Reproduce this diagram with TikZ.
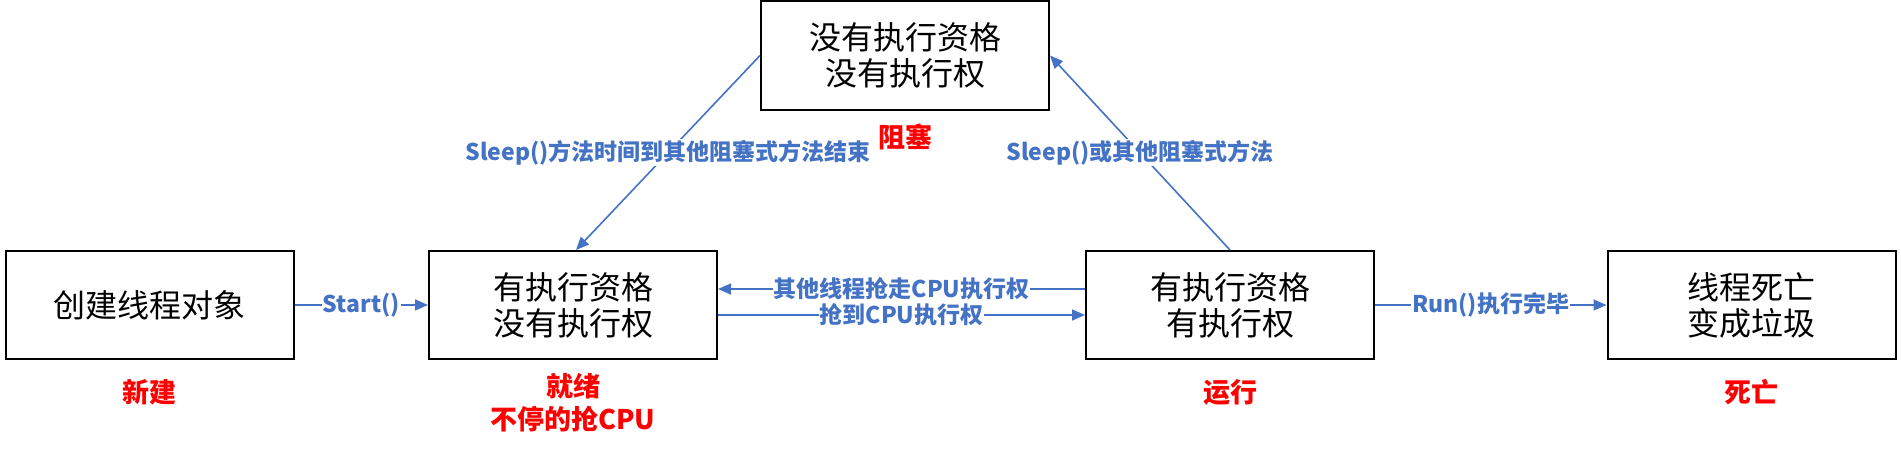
\documentclass[tikz,border=0pt]{standalone}
\usepackage{fontspec}
\setmainfont{Noto Sans CJK SC}
\usetikzlibrary{arrows.meta}
\definecolor{lblue}{HTML}{4472C4}
\begin{document}
\begin{tikzpicture}[x=1pt,y=-1pt,
  box/.style={draw=black,line width=2pt,minimum width=288pt,minimum height=108pt,inner sep=0pt,align=center,font=\fontsize{32}{36}\selectfont},
  conn/.style={draw=lblue,line width=1.6pt,-{Triangle[length=13pt,width=11pt]}},
  lbl/.style={fill=white,text=lblue,font=\fontsize{23}{26}\selectfont\bfseries,inner sep=1pt},
  statelbl/.style={text=red,font=\fontsize{27}{33}\selectfont\bfseries,align=center}]
\useasboundingbox (0,0) rectangle (1901,452);
\node[box] (new) at (149.5,305) {创建线程对象};
\node[box] (ready) at (573,305) {有执行资格\\没有执行权};
\node[box] (run) at (1230,305) {有执行资格\\有执行权};
\node[box] (dead) at (1751.5,305) {线程死亡\\变成垃圾};
\node[box] (blocked) at (905,55.5) {没有执行资格\\没有执行权};
\draw[conn] (new.east) -- node[lbl] {Start()} (ready.west);
\draw[conn] ([yshift=16pt]run.west) -- node[lbl] {其他线程抢走CPU执行权} ([yshift=16pt]ready.east);
\draw[conn] ([yshift=-10pt]ready.east) -- node[lbl] {抢到CPU执行权} ([yshift=-10pt]run.west);
\draw[conn] (run.east) -- node[lbl] {Run()执行完毕} (dead.west);
\draw[conn] (blocked.west) -- node[lbl] {Sleep()方法时间到其他阻塞式方法结束} ([xshift=3pt]ready.north);
\draw[conn] (run.north) -- node[lbl] {Sleep()或其他阻塞式方法} (blocked.east);
\node[statelbl] (s1) at (149.5,392) {新建};
\node[statelbl] (s2) at (573,403) {就绪\\不停的抢CPU};
\node[statelbl] (s3) at (905,137) {阻塞};
\node[statelbl] (s4) at (1230,392) {运行};
\node[statelbl] (s5) at (1751.5,392) {死亡};
\end{tikzpicture}
\end{document}
